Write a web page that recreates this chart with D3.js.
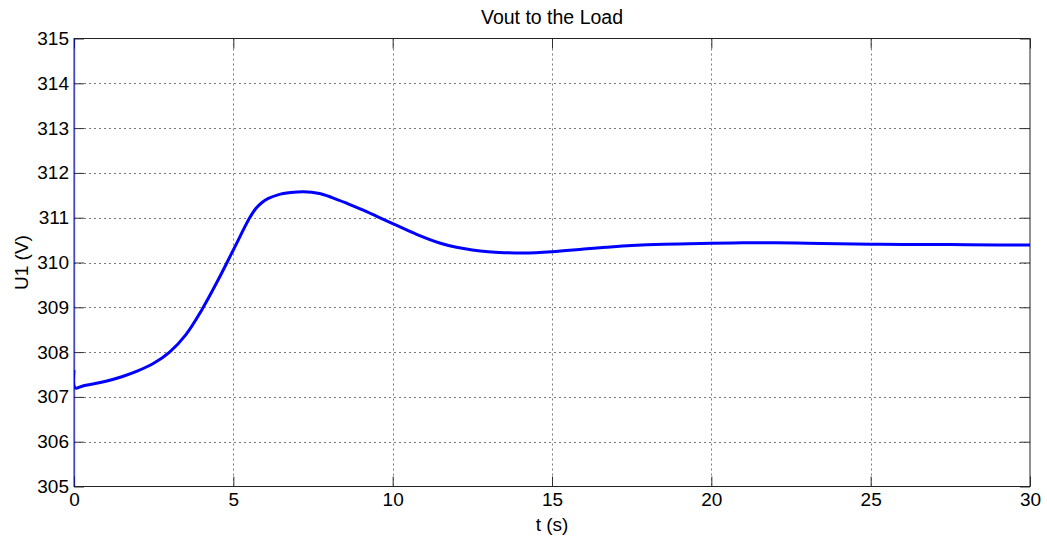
<!DOCTYPE html>
<html>
<head>
<meta charset="utf-8">
<script src="https://cdn.jsdelivr.net/npm/d3@7"></script>
<style>
  html, body { margin: 0; padding: 0; background: #fff; }
  svg { display: block; font-family: "Liberation Sans", Arial, sans-serif; }
</style>
</head>
<body>
<svg id="chart" width="1047" height="539"></svg>
<script>
// Load voltage U1 over time (s); first three samples are the switch-on transient at t = 0
const timeS = [0, 0, 0, 0.04, 0.3, 0.6, 1.0, 1.5, 2.0, 2.5, 3.0, 3.5, 4.0, 4.5, 5.0, 5.5, 5.7, 5.9, 6.1,
  6.4, 6.8, 7.2, 7.7, 8.1, 8.6, 9.2, 9.5, 10.0, 10.75, 11.5, 12.0, 12.5, 13.0, 13.5, 14.1, 15.0,
  16.0, 16.7, 17.5, 18.5, 20.0, 21.0, 22.0, 23.0, 24.0, 25.0, 26.0, 27.5, 29.0, 30.0];
const voltage = [300, 320, 307.6, 307.2, 307.25, 307.29, 307.35, 307.45, 307.58, 307.75, 308.0, 308.38,
  308.93, 309.58, 310.28, 310.98, 311.2, 311.34, 311.43, 311.51, 311.56, 311.58, 311.54, 311.45, 311.31,
  311.13, 311.03, 310.87, 310.63, 310.43, 310.34, 310.28, 310.24, 310.22, 310.21, 310.24, 310.3, 310.34,
  310.38, 310.41, 310.43, 310.44, 310.44, 310.43, 310.42, 310.41, 310.4, 310.4, 310.39, 310.39];

const xTicks = [0, 5, 10, 15, 20, 25, 30];
const yTicks = [305, 306, 307, 308, 309, 310, 311, 312, 313, 314, 315];
const titleText = "Vout to the Load";
const xLabel = "t (s)";
const yLabel = "U1 (V)";

const svg = d3.select("#chart");
const L = 74, R = 1030, T = 38.5, B = 486.5;
const fontSize = "19px";

const x = d3.scaleLinear().domain([0, 30]).range([L, R]);
const y = d3.scaleLinear().domain([305, 315]).range([B, T]);

// grid
const grid = svg.append("g").attr("stroke", "#7a7a7a").attr("stroke-width", 1)
  .attr("stroke-dasharray", "2,3").attr("fill", "none");
xTicks.slice(1, -1).forEach(t => {
  const px = Math.round(x(t)) + 0.5;
  grid.append("line").attr("x1", px).attr("x2", px).attr("y1", T).attr("y2", B);
});
yTicks.slice(1, -1).forEach(v => {
  const py = Math.round(y(v)) + 0.5;
  grid.append("line").attr("x1", L).attr("x2", R).attr("y1", py).attr("y2", py);
});

// axes with inward ticks on all four sides
const tickLen = 10;
const bottomAxis = d3.axisBottom(x).tickValues(xTicks).tickSize(-tickLen).tickPadding(6)
  .tickFormat(d3.format("d"));
const leftAxis = d3.axisLeft(y).tickValues(yTicks).tickSize(-tickLen).tickPadding(5)
  .tickFormat(d3.format("d"));
const topAxis = d3.axisTop(x).tickValues(xTicks).tickSize(-tickLen).tickFormat("");
const rightAxis = d3.axisRight(y).tickValues(yTicks).tickSize(-tickLen).tickFormat("");

function styleAxis(g) {
  g.select(".domain").remove();
  g.selectAll(".tick line").attr("stroke", "#303030");
  g.selectAll(".tick text").attr("fill", "#000").style("font-size", fontSize)
    .style("font-family", "'Liberation Sans', Arial, sans-serif");
}
svg.append("g").attr("transform", `translate(0,${B})`).call(bottomAxis).call(styleAxis);
svg.append("g").attr("transform", `translate(${L},0)`).call(leftAxis).call(styleAxis);
svg.append("g").attr("transform", `translate(0,${T})`).call(topAxis).call(styleAxis);
svg.append("g").attr("transform", `translate(${R},0)`).call(rightAxis).call(styleAxis);

// plot box
svg.append("rect").attr("x", L).attr("y", T).attr("width", R - L).attr("height", B - T)
  .attr("fill", "none").attr("stroke", "#222").attr("stroke-width", 1);

// clip to the plot area
svg.append("clipPath").attr("id", "plotClip").append("rect")
  .attr("x", L).attr("y", T).attr("width", R - L).attr("height", B - T);

const pts = timeS.map((t, i) => [t, voltage[i]]);
const transient = pts.slice(0, 3);   // full-range swing at t = 0, mostly hidden by the axis edge
const settle = pts.slice(2);

const plot = svg.append("g").attr("clip-path", "url(#plotClip)");
plot.append("path").datum(transient)
  .attr("d", d3.line().x(d => x(d[0])).y(d => y(d[1])))
  .attr("fill", "none").attr("stroke", "#0000ff").attr("stroke-opacity", 0.5)
  .attr("stroke-width", 2.5);
plot.append("path").datum(settle)
  .attr("d", d3.line().x(d => x(d[0])).y(d => y(d[1])).curve(d3.curveCatmullRom.alpha(0.5)))
  .attr("fill", "none").attr("stroke", "#0000ff").attr("stroke-width", 3)
  .attr("stroke-linejoin", "round");

// titles
svg.append("text").attr("x", (L + R) / 2).attr("y", 24).attr("text-anchor", "middle")
  .style("font-size", "19.5px").text(titleText);
svg.append("text").attr("x", (L + R) / 2).attr("y", 531).attr("text-anchor", "middle")
  .style("font-size", fontSize).text(xLabel);
svg.append("text").attr("transform", `translate(28,${(T + B) / 2}) rotate(-90)`)
  .attr("text-anchor", "middle").style("font-size", fontSize).text(yLabel);
</script>
</body>
</html>
